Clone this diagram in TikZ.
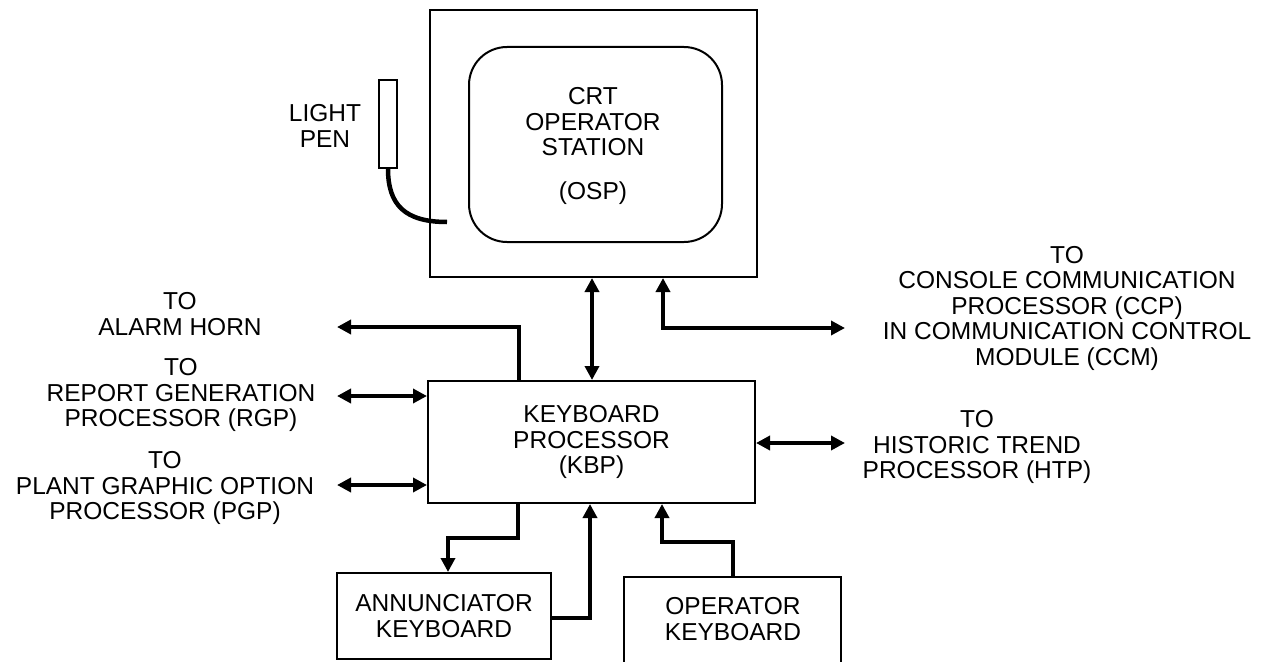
\documentclass[tikz,border=0pt]{standalone}
\usepackage{fontspec}
\setmainfont{Liberation Sans}
\usetikzlibrary{arrows.meta,calc}
\begin{document}
\begin{tikzpicture}[x=1pt,y=-1pt,
  every node/.style={font=\fontsize{24.5}{25.5}\selectfont, align=center, inner sep=0pt},
  box/.style={draw, line width=2pt},
  link/.style={line width=4.5pt, -{Triangle[length=14pt,width=14pt]}},
  dbl/.style={line width=4.5pt, {Triangle[length=14pt,width=14pt]}-{Triangle[length=14pt,width=14pt]}},
  cord/.style={line width=4.5pt}]
\useasboundingbox (0,0) rectangle (1276,661);
% boxes
\node[box, minimum width=327pt, minimum height=267pt] (crt) at (593.5,143.5) {};
\node[box, rounded corners=38pt, minimum width=253pt, minimum height=195pt] (screen) at (595.5,144.5) {};
\node (crttext) at (593,122) {CRT\\OPERATOR\\STATION};
\node (osp) at (593,193) {(OSP)};
\node[box, line width=1.6pt, minimum width=18pt, minimum height=88pt] (pen) at (388,124) {};
\node (pentext) at (325,126) {LIGHT\\PEN};
\node[box, minimum width=327pt, minimum height=122pt] (kbp) at (591.5,442) {KEYBOARD\\PROCESSOR\\(KBP)};
\node[box, minimum width=214pt, minimum height=86pt] (annun) at (444,616) {ANNUNCIATOR\\KEYBOARD};
\node[box, minimum width=217pt, minimum height=90pt] (oper) at (732.5,622) {};
\node (opertext) at (733,619) {OPERATOR\\KEYBOARD};
% text labels
\node (alarm) at (180,314) {TO\\ALARM HORN};
\node (rgp) at (181,395) {TO\\REPORT GENERATION\\PROCESSOR (RGP)};
\node (pgp) at (165,488) {TO\\PLANT GRAPHIC OPTION\\PROCESSOR (PGP)};
\node (ccp) at (1067,308) {TO\\CONSOLE COMMUNICATION\\PROCESSOR (CCP)\\IN COMMUNICATION CONTROL\\MODULE (CCM)};
\node (htp) at (977,447) {TO\\HISTORIC TREND\\PROCESSOR (HTP)};
% free ends
\coordinate (alarmend) at (337,327);
\coordinate (rgpend) at (337,396);
\coordinate (pgpend) at (337,485);
\coordinate (ccpend) at (845,328);
\coordinate (htpend) at (845,443);
\coordinate (cordend) at (447,222);
% light pen cord
\draw[cord] (pen.south) .. controls (388,205) and (405,222) .. (cordend);
% connectors
\draw[dbl] (kbp.north -| 592,0) -- (crt.south -| 592,0);
\draw[dbl] (crt.south -| 663,0) |- (ccpend);
\draw[link] (kbp.north -| 519,0) |- (alarmend);
\draw[dbl] (kbp.west |- 0,396) -- (rgpend);
\draw[dbl] (kbp.west |- 0,485) -- (pgpend);
\draw[dbl] (kbp.east |- 0,443) -- (htpend);
\draw[link] (kbp.south -| 518,0) -- (518,538) -- (448,538) -- (annun.north -| 448,0);
\draw[link] (annun.east |- 0,618) -| (kbp.south -| 590,0);
\draw[link] (oper.north -| 733,0) -- (733,542) -- (662,542) -- (kbp.south -| 662,0);
\end{tikzpicture}
\end{document}
